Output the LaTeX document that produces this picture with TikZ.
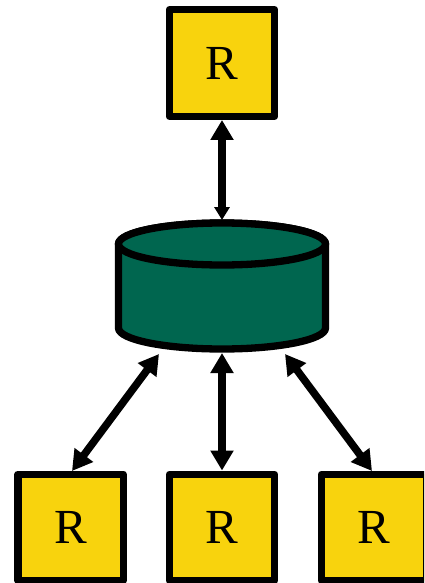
\documentclass[tikz,border=0pt]{standalone}
\usepackage{fontspec}
\setmainfont{Liberation Serif}
\usetikzlibrary{arrows.meta}
\definecolor{ryellow}{HTML}{F8D30D}
\definecolor{dbgreen}{HTML}{00664F}
\tikzset{
  replica/.style={draw=black,fill=ryellow,line width=7.3pt,line join=round,rectangle,
    minimum width=105.3pt,minimum height=106.6pt,inner sep=0pt,font=\fontsize{49}{49}\selectfont,text=black},
  store/.style={draw=black,fill=dbgreen,line width=7.3pt,line join=round},
  link/.style={line width=7.6pt,black,{Triangle[length=20pt,width=22pt]}-{Triangle[length=20pt,width=22pt]}},
  linksmall/.style={line width=7.6pt,black,{Triangle[length=20pt,width=22pt]}-{Triangle[length=13pt,width=15pt]}}
}
\begin{document}
\begin{tikzpicture}[x=1pt,y=-1pt]
\useasboundingbox (0,0) rectangle (424,583);
\clip (0,0) rectangle (424,583);
\node[replica] (top) at (222,63) {R};
\node[replica] (bl) at (70.5,527.5) {R};
\node[replica] (bm) at (222,527.5) {R};
\node[replica] (br) at (374,527.5) {R};
% cylinder
\draw[store] (118.5,244) -- (118.5,328) arc[start angle=180,end angle=360,x radius=103.5pt,y radius=21pt]
  -- (325.5,244) arc[start angle=0,end angle=180,x radius=103.5pt,y radius=21pt] -- cycle;
\draw[store] (222,244) ellipse[x radius=103.5pt,y radius=21pt];
\coordinate (dbtop) at (222,220);
\coordinate (dbbottom) at (222,353);
\coordinate (dbleft) at (159,354);
\coordinate (dbright) at (285,354);
\coordinate (blin) at (72,471);
\coordinate (brin) at (372,471);
\draw[linksmall] (top.south) -- (dbtop);
\draw[link] (dbleft) -- (blin);
\draw[link] (dbbottom) -- (bm.north);
\draw[link] (dbright) -- (brin);
\end{tikzpicture}
\end{document}
